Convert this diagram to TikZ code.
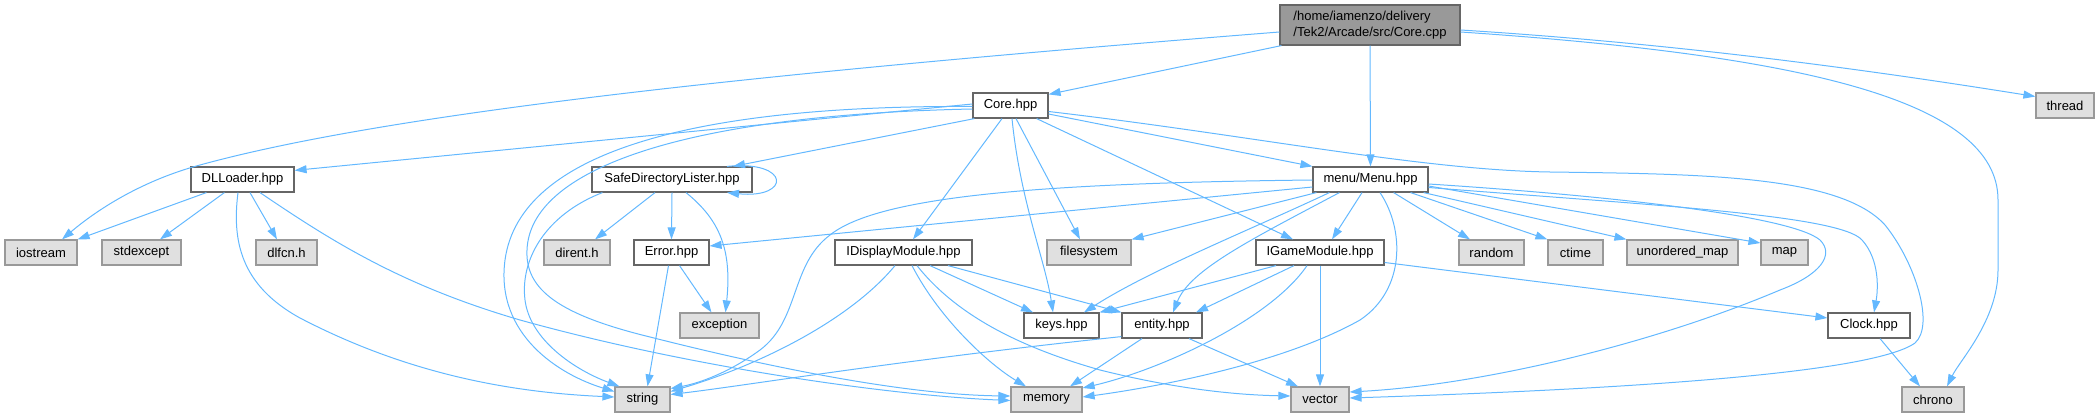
\documentclass[tikz,border=0pt]{standalone}
\usepackage{fontspec}
\setmainfont{Liberation Sans}
\usetikzlibrary{arrows.meta,calc}
\definecolor{edgec}{HTML}{63B8FF}
\definecolor{bord}{HTML}{666666}
\definecolor{sysbord}{HTML}{999999}
\definecolor{sysfill}{HTML}{E0E0E0}
\definecolor{rootfill}{HTML}{999999}
\begin{document}
\begin{tikzpicture}[x=1pt,y=-1pt,
  font=\fontsize{13}{16}\selectfont,
  usr/.style={draw=bord, fill=white, line width=1.2pt, inner sep=0pt, minimum height=25pt},
  sys/.style={draw=sysbord, fill=sysfill, line width=1.2pt, inner sep=0pt, minimum height=25pt},
  rootbox/.style={draw=bord, fill=rootfill, line width=1.2pt, inner sep=0pt, minimum height=40pt, align=left},
  dep/.style={draw=edgec, line width=1pt, -{Triangle[length=12pt,width=8pt]}}]
\path[use as bounding box] (0,0) rectangle (2100,417);
% nodes
\node[rootbox, minimum width=180pt] (corecpp) at (1370,25) {/home/iamenzo/delivery\\/Tek2/Arcade/src/Core.cpp};
\node[usr, minimum width=75pt] (corehpp) at (1010.5,105.5) {Core.hpp};
\node[sys, minimum width=58pt] (thread) at (2065,105.5) {thread};
\node[usr, minimum width=103pt] (dll) at (242.5,179.5) {DLLoader.hpp};
\node[usr, minimum width=160pt] (safe) at (672,179.5) {SafeDirectoryLister.hpp};
\node[usr, minimum width=115pt] (menu) at (1370.5,179.5) {menu/Menu.hpp};
\node[sys, minimum width=72pt] (iostream) at (41,252.5) {iostream};
\node[sys, minimum width=79pt] (stdexcept) at (141.5,252.5) {stdexcept};
\node[sys, minimum width=61pt] (dlfcn) at (286.5,252.5) {dlfcn.h};
\node[sys, minimum width=66pt] (dirent) at (577,252.5) {dirent.h};
\node[usr, minimum width=75pt] (error) at (671.5,252.5) {Error.hpp};
\node[usr, minimum width=137pt] (idisp) at (903.5,252.5) {IDisplayModule.hpp};
\node[sys, minimum width=84pt] (fs) at (1089,252.5) {filesystem};
\node[usr, minimum width=128pt] (igm) at (1320,252.5) {IGameModule.hpp};
\node[sys, minimum width=65pt] (random) at (1491.5,252.5) {random};
\node[sys, minimum width=55pt] (ctime) at (1575.5,252.5) {ctime};
\node[sys, minimum width=111pt] (umap) at (1682.5,252.5) {unordered\_map};
\node[sys, minimum width=47pt] (map) at (1784.5,252.5) {map};
\node[sys, minimum width=79pt] (exception) at (719.5,325.5) {exception};
\node[usr, minimum width=75pt] (keys) at (1061.5,325.5) {keys.hpp};
\node[usr, minimum width=80pt] (entity) at (1162,325.5) {entity.hpp};
\node[usr, minimum width=82pt] (clock) at (1869,325.5) {Clock.hpp};
\node[sys, minimum width=55pt] (string) at (642.5,399.5) {string};
\node[sys, minimum width=71pt] (memory) at (1046.5,399.5) {memory};
\node[sys, minimum width=58pt] (vector) at (1320,399.5) {vector};
\node[sys, minimum width=62pt] (chrono) at (1933,399.5) {chrono};
% Core.cpp edges
\draw[dep] ($(corecpp.south west)+(2,0)$) -- ($(corehpp.north east)+(0,2)$);
\draw[dep] (corecpp.south) -- (menu.north);
\draw[dep] ($(corecpp.east)+(0,5)$) .. controls (1700,45) and (1900,75) .. ($(thread.west)+(0,-9)$);
\draw[dep] ($(corecpp.east)+(0,7)$) .. controls (1800,55) and (1998,100) .. (1998,200) -- (1998,270) .. controls (1998,320) and (1960,360) .. ($(chrono.north)+(14,0)$);
\draw[dep] ($(corecpp.west)+(0,7)$) .. controls (800,70) and (400,110) .. (200,165) .. controls (130,184) and (85,220) .. ($(iostream.north)+(21,0)$);
% Core.hpp edges
\draw[dep] ($(corehpp.west)+(0,-1.5)$) -- ($(dll.north east)+(0,4)$);
\draw[dep] ($(corehpp.south west)+(2,0)$) -- ($(safe.north)+(61,0)$);
\draw[dep] ($(corehpp.west)+(0,1)$) .. controls (700,105) and (520,150) .. (505,260) .. controls (495,335) and (560,375) .. ($(string.west)+(0,-8)$);
\draw[dep] ($(corehpp.west)+(0,3.5)$) .. controls (680,115) and (530,170) .. (527,250) .. controls (525,290) and (560,315) .. (650,337) .. controls (800,375) and (920,395) .. ($(memory.west)+(0,-3.5)$);
\draw[dep] ($(corehpp.south)+(-8.5,0)$) -- ($(idisp.north)+(9.5,0)$);
\draw[dep] ($(corehpp.south)+(1.5,0)$) .. controls (1020,200) and (1045,260) .. ($(keys.north)+(-8.5,0)$);
\draw[dep] ($(corehpp.south)+(5.5,0)$) -- ($(fs.north)+(-9,0)$);
\draw[dep] ($(corehpp.south east)+(-12,0)$) -- ($(igm.north)+(-27,0)$);
\draw[dep] ($(corehpp.east)+(0,8.5)$) -- (menu.north west);
\draw[dep] ($(corehpp.east)+(0,6)$) .. controls (1250,135) and (1420,170) .. (1550,172) .. controls (1700,174) and (1840,175) .. (1885,225) .. controls (1915,262) and (1935,325) .. (1915,343) .. controls (1870,375) and (1600,390) .. ($(vector.east)+(0,-1.5)$);
% menu edges
\draw[dep] ($(menu.west)+(0,0.5)$) .. controls (1050,183) and (880,195) .. (830,235) .. controls (790,265) and (800,320) .. (760,350) .. controls (730,372) and (700,383) .. ($(string.east)+(0,-11)$);
\draw[dep] ($(menu.west)+(0,7.5)$) -- ($(error.east)+(0,-6.5)$);
\draw[dep] ($(menu.south west)+(4,0)$) -- (fs.north east);
\draw[dep] ($(menu.south west)+(17,0)$) .. controls (1250,230) and (1150,270) .. ($(keys.north)+(22.5,0)$);
\draw[dep] ($(menu.south west)+(27,0)$) .. controls (1250,240) and (1190,270) .. ($(entity.north)+(11,0)$);
\draw[dep] ($(menu.south)+(-8.5,0)$) -- ($(igm.north)+(12,0)$);
\draw[dep] ($(menu.south)+(9.5,0)$) .. controls (1405,230) and (1405,290) .. (1360,320) .. controls (1280,365) and (1150,388) .. ($(memory.east)+(0,-2.5)$);
\draw[dep] ($(menu.south east)+(-35,0)$) -- ($(random.north)+(-21.5,0)$);
\draw[dep] ($(menu.south east)+(-18,0)$) -- (ctime.north west);
\draw[dep] ($(menu.south east)+(-5,0)$) -- (umap.north west);
\draw[dep] ($(menu.east)+(0,6.5)$) -- ($(map.west)+(0,-9.5)$);
\draw[dep] ($(menu.east)+(0,4.5)$) .. controls (1600,195) and (1790,215) .. (1820,240) .. controls (1835,255) and (1820,275) .. (1780,290) .. controls (1650,345) and (1480,385) .. ($(vector.east)+(0,-7.5)$);
\draw[dep] ($(menu.east)+(0,8)$) .. controls (1650,205) and (1840,215) .. (1862,240) .. controls (1880,260) and (1878,290) .. ($(clock.north)+(5,0)$);
% DLLoader edges
\draw[dep] ($(dll.south west)+(16,0)$) -- (iostream.north east);
\draw[dep] ($(dll.south west)+(34,0)$) -- ($(stdexcept.north)+(18.5,0)$);
\draw[dep] ($(dll.south)+(7.5,0)$) -- ($(dlfcn.north)+(-9.5,0)$);
\draw[dep] ($(dll.south)+(-4.5,0)$) .. controls (232,240) and (240,285) .. (300,318) .. controls (400,370) and (500,392) .. ($(string.west)+(0,-2.5)$);
\draw[dep] ($(dll.south)+(17.5,0)$) .. controls (330,240) and (400,285) .. (520,320) .. controls (700,370) and (900,396) .. ($(memory.west)+(0,1)$);
% SafeDirectoryLister edges
\draw[dep] ($(safe.north)+(55,0)$) .. controls (791,160) and (791,199) .. ($(safe.south)+(55,0)$);
\draw[dep] ($(safe.south)+(-17,0)$) -- ($(dirent.north)+(18,0)$);
\draw[dep] (safe.south) -- (error.north);
\draw[dep] ($(safe.south)+(14,0)$) .. controls (720,220) and (732,250) .. ($(exception.north)+(6,0)$);
\draw[dep] ($(safe.south west)+(11,0)$) .. controls (545,215) and (520,260) .. (525,300) .. controls (530,340) and (575,370) .. ($(string.north west)+(5,0)$);
% Error edges
\draw[dep] ($(error.south)+(-3,0)$) -- ($(string.north)+(5,0)$);
\draw[dep] ($(error.south)+(8,0)$) -- ($(exception.north)+(-8,0)$);
% IDisplayModule edges
\draw[dep] ($(idisp.south)+(-8.5,0)$) .. controls (850,320) and (760,365) .. ($(string.east)+(0,-8)$);
\draw[dep] ($(idisp.south)+(8.5,0)$) .. controls (940,320) and (990,365) .. ($(memory.north)+(-20.5,0)$);
\draw[dep] ($(idisp.south)+(13.5,0)$) .. controls (960,320) and (1030,350) .. (1100,370) .. controls (1180,390) and (1240,395) .. ($(vector.west)+(0,-3.5)$);
\draw[dep] ($(idisp.south)+(26.5,0)$) -- ($(keys.north)+(-28.5,0)$);
\draw[dep] ($(idisp.south)+(44.5,0)$) -- (entity.north west);
% IGameModule edges
\draw[dep] ($(igm.south)+(-44,0)$) -- (keys.north east);
\draw[dep] ($(igm.south)+(-26,0)$) -- ($(entity.north)+(34,0)$);
\draw[dep] ($(igm.south)+(-13,0)$) .. controls (1270,320) and (1160,370) .. ($(memory.east)+(0,-11.5)$);
\draw[dep] (igm.south) -- (vector.north);
\draw[dep] ($(igm.east)+(0,10)$) -- ($(clock.west)+(0,-7.5)$);
% entity edges
\draw[dep] ($(entity.south west)+(0,-2)$) .. controls (900,360) and (750,385) .. ($(string.east)+(0,-5)$);
\draw[dep] ($(entity.south)+(-20,0)$) -- ($(memory.north)+(23.5,0)$);
\draw[dep] ($(entity.south)+(27,0)$) -- ($(vector.north)+(-22,0)$);
% Clock edge
\draw[dep] ($(clock.south)+(11,0)$) -- ($(chrono.north)+(-13,0)$);
\end{tikzpicture}
\end{document}
